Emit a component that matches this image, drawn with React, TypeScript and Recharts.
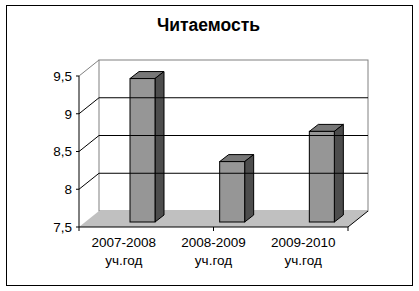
import { BarChart, Bar, XAxis, YAxis, ReferenceLine, ReferenceArea } from "recharts"

const periods = ["2007-2008", "2008-2009", "2009-2010"]
const periodSuffix = "уч.год"
const readability = [9.4, 8.3, 8.7]
const yTicks = [7.5, 8, 8.5, 9, 9.5]
const gridValues = [8, 8.5, 9]
const edgeTicks = [0, 1, 2, 3]

const data = periods.map((period, i) => ({ period, value: readability[i] }))

// oblique offset of the back wall and of the bars inside the box
const WALL_DX = 20
const WALL_DY = -16
const BAR_DX = 19
const BAR_DY = -5
const DEPTH_X = 9
const DEPTH_Y = -7

const FONT = "'Liberation Sans', Arial, sans-serif"

function Box3D(props: any) {
  const { x, y, width, height } = props
  const fx = x + BAR_DX
  const fy = y + BAR_DY
  const top = `${fx},${fy} ${fx + DEPTH_X},${fy + DEPTH_Y} ${fx + width + DEPTH_X},${fy + DEPTH_Y} ${fx + width},${fy}`
  const side = `${fx + width},${fy} ${fx + width + DEPTH_X},${fy + DEPTH_Y} ${fx + width + DEPTH_X},${fy + height + DEPTH_Y} ${fx + width},${fy + height}`
  return (
    <g stroke="#000" strokeWidth={1}>
      <polygon points={top} fill="#777777" />
      <polygon points={side} fill="#4d4d4d" />
      <rect x={fx} y={fy} width={width} height={height} fill="#969696" />
    </g>
  )
}

function WallAndFloor(props: any) {
  const { x, y, width, height } = props
  const by = y + height
  const floor = `${x},${by} ${x + width},${by} ${x + width + WALL_DX},${by + WALL_DY} ${x + WALL_DX},${by + WALL_DY}`
  return (
    <g>
      <rect x={x + WALL_DX} y={y + WALL_DY} width={width} height={height} fill="#fff" stroke="#808080" />
      <line x1={x} y1={y} x2={x + WALL_DX} y2={y + WALL_DY} stroke="#808080" />
      <polygon points={floor} fill="#c0c0c0" />
      <line x1={x + width} y1={by} x2={x + width + WALL_DX} y2={by + WALL_DY} stroke="#000" />
    </g>
  )
}

function GridLine(props: any) {
  const { x1, y1, x2 } = props
  return (
    <g stroke="#000" strokeWidth={1}>
      <line x1={x1} y1={y1} x2={x1 + WALL_DX} y2={y1 + WALL_DY} />
      <line x1={x1 + WALL_DX} y1={y1 + WALL_DY} x2={x2 + WALL_DX} y2={y1 + WALL_DY} />
    </g>
  )
}

function EdgeTick(props: any) {
  const { x1, y1, y2 } = props
  const bottom = Math.max(y1, y2)
  return <line x1={x1} y1={bottom} x2={x1} y2={bottom + 4} stroke="#000" />
}

function PeriodTick(props: any) {
  const { x, y, payload } = props
  return (
    <text x={x} y={y} textAnchor="middle" fill="#000" fontSize={13.5} fontFamily={FONT}>
      <tspan x={x} dy={12}>{payload.value}</tspan>
      <tspan x={x} dy={18}>{periodSuffix}</tspan>
    </text>
  )
}

export default function App() {
  return (
    <div style={{ position: "absolute", left: 0, top: 0, width: 419, height: 291, background: "#fff" }}>
      <div
        style={{
          position: "absolute",
          left: 6,
          top: 5,
          width: 405,
          height: 279,
          border: "1px solid #000",
        }}
      />
      <div
        style={{
          position: "absolute",
          left: 0,
          top: 15,
          width: 417,
          textAlign: "center",
          fontFamily: FONT,
          fontWeight: "bold",
          fontSize: 17.5,
          lineHeight: "20px",
          color: "#000",
        }}
      >
        Читаемость
      </div>
      <div style={{ position: "absolute", left: 0, top: 0 }}>
        <BarChart width={419} height={291} data={data} margin={{ top: 76, right: 71, left: 9, bottom: 24 }}>
          <XAxis xAxisId="edges" type="number" domain={[0, periods.length]} ticks={edgeTicks} hide />
          <XAxis
            dataKey="period"
            height={40}
            axisLine={{ stroke: "#000" }}
            tickLine={false}
            tick={<PeriodTick />}
            interval={0}
          />
          <YAxis
            width={70}
            domain={[7.5, 9.5]}
            ticks={yTicks}
            tickFormatter={(v: number) => String(v).replace(".", ",")}
            tickSize={3}
            tickMargin={4}
            axisLine={{ stroke: "#000" }}
            tickLine={{ stroke: "#000" }}
            tick={{ fill: "#000", fontSize: 13.5, fontFamily: FONT }}
          />
          <ReferenceArea y1={7.5} y2={9.5} shape={<WallAndFloor />} />
          {gridValues.map((v) => (
            <ReferenceLine key={v} y={v} shape={<GridLine />} />
          ))}
          {edgeTicks.map((t) => (
            <ReferenceLine key={`e${t}`} xAxisId="edges" x={t} shape={<EdgeTick />} />
          ))}
          <Bar dataKey="value" barSize={25} shape={<Box3D />} isAnimationActive={false} />
        </BarChart>
      </div>
    </div>
  )
}
